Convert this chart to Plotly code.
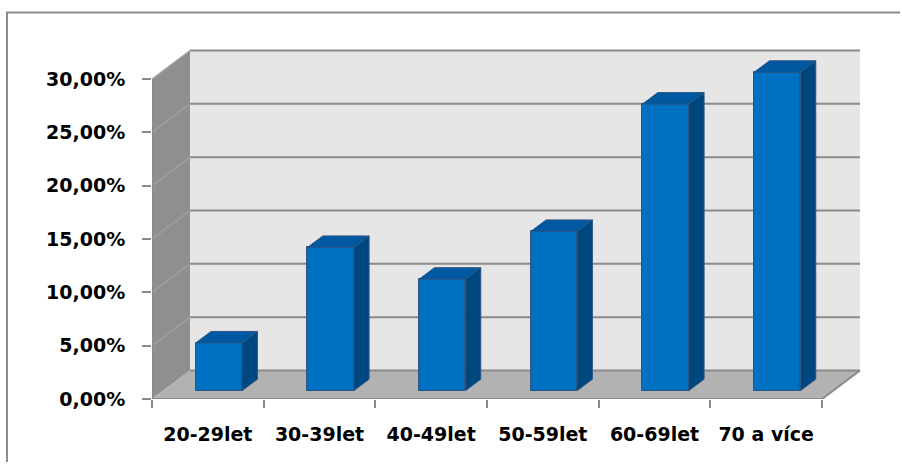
import plotly.graph_objects as go

# ---------------- data ----------------
categories = ["20-29let", "30-39let", "40-49let", "50-59let", "60-69let", "70 a více"]
shares = [4.48, 13.43, 10.45, 14.93, 26.87, 29.85]
y_tick_values = [0, 5, 10, 15, 20, 25, 30]
y_tick_labels = ["0,00%", "5,00%", "10,00%", "15,00%", "20,00%", "25,00%", "30,00%"]

# ---------------- geometry / style ----------------
W, H = 902, 464
L, R, T, B = 152, 38, 48, 65
PX_PER_CAT = 670 / 6
PX_PER_PCT = 320 / 30
N = len(categories)
YMAX = 30
DX, DY = 38 / PX_PER_CAT, 28.5 / PX_PER_PCT   # depth vector of the 3D box
F0, F1 = 0.29, 0.695                          # bar front/back depth fractions
BW = 0.415                                     # bar width in category units
D = F1 - F0

FRONT = "#0070c0"
SIDE = "#00477f"
TOP = "#0058a0"
EDGE = "#2a5584"
WALL = "#e6e6e6"
SIDEWALL = "#8f8f8f"
FLOOR = "#b2b2b2"
GRID = "#8a8a8a"

plot_w = W - L - R
plot_h = H - T - B
xr = [0, plot_w / PX_PER_CAT]
yr = [0, plot_h / PX_PER_PCT]

fig = go.Figure()

centers = [i + 0.5 + F0 * DX for i in range(N)]
base0 = F0 * DY
fig.add_trace(go.Bar(
    x=centers, y=shares, base=[base0] * N, width=BW,
    marker=dict(color=FRONT, line=dict(color=EDGE, width=1)),
    hoverinfo="skip", showlegend=False,
))

sx, sy, tx, ty = [], [], [], []
for c, v in zip(centers, shares):
    xl, xrr = c - BW / 2, c + BW / 2
    top = base0 + v
    sx += [xrr, xrr, xrr + D * DX, xrr + D * DX, xrr, None]
    sy += [base0, top, top + D * DY, base0 + D * DY, base0, None]
    tx += [xl, xrr, xrr + D * DX, xl + D * DX, xl, None]
    ty += [top, top, top + D * DY, top + D * DY, top, None]

fig.add_trace(go.Scatter(x=sx, y=sy, mode="lines", fill="toself", fillcolor=SIDE,
                         line=dict(color=EDGE, width=1), hoverinfo="skip", showlegend=False))
fig.add_trace(go.Scatter(x=tx, y=ty, mode="lines", fill="toself", fillcolor=TOP,
                         line=dict(color=EDGE, width=1), hoverinfo="skip", showlegend=False))

shapes = []
shapes.append(dict(type="rect", xref="x", yref="y", x0=DX, x1=N + DX, y0=DY, y1=YMAX + DY,
                   fillcolor=WALL, line=dict(width=0), layer="below"))
shapes.append(dict(type="path", xref="x", yref="y",
                   path=f"M 0,0 L 0,{YMAX} L {DX},{YMAX + DY} L {DX},{DY} Z",
                   fillcolor=SIDEWALL, line=dict(width=0), layer="below"))
shapes.append(dict(type="path", xref="x", yref="y",
                   path=f"M 0,0 L {N},0 L {N + DX},{DY} L {DX},{DY} Z",
                   fillcolor=FLOOR, line=dict(width=0), layer="below"))
for v in y_tick_values:
    shapes.append(dict(type="line", xref="x", yref="y", x0=DX, x1=N + DX, y0=v + DY, y1=v + DY,
                       line=dict(color=GRID, width=2), layer="below"))
    if v > 0:
        shapes.append(dict(type="line", xref="x", yref="y", x0=0, x1=DX, y0=v, y1=v + DY,
                           line=dict(color="#a3a3a3", width=1.2), layer="below"))
shapes.append(dict(type="line", xref="x", yref="y", x0=0, x1=0, y0=0, y1=YMAX,
                   line=dict(color=GRID, width=2), layer="below"))
shapes.append(dict(type="line", xref="x", yref="y", x0=0, x1=N, y0=0, y1=0,
                   line=dict(color=GRID, width=2), layer="below"))
shapes.append(dict(type="line", xref="x", yref="y", x0=N, x1=N + DX, y0=0, y1=DY,
                   line=dict(color=GRID, width=2), layer="below"))

# outer chart border (left and top edges), kept inside the page
px2x = lambda px: (px - L) / plot_w
py2y = lambda py: (H - B - py) / plot_h
shapes.append(dict(type="path", xref="paper", yref="paper",
                   path=f"M {px2x(7)},{py2y(H - 2)} L {px2x(7)},{py2y(12.5)} L {px2x(W - 2)},{py2y(12.5)}",
                   line=dict(color="#8c8c8c", width=2), fillcolor="rgba(0,0,0,0)", layer="below"))

fig.update_layout(
    width=W, height=H,
    margin=dict(l=L, r=R, t=T, b=B, pad=0),
    paper_bgcolor="white", plot_bgcolor="rgba(0,0,0,0)",
    shapes=shapes,
    showlegend=False,
    bargap=0,
    xaxis=dict(
        range=xr, showgrid=False, zeroline=False, showline=False,
        tickmode="array", tickvals=[i + 0.5 for i in range(N)], ticktext=categories,
        ticks="", tickfont=dict(family="DejaVu Sans", size=19, color="#000000", weight="bold"),
        ticklabelstandoff=22,
        minor=dict(tickmode="array", tickvals=list(range(N + 1)), ticks="outside",
                   ticklen=8, tickcolor=GRID, tickwidth=2, showgrid=False),
        fixedrange=True,
    ),
    yaxis=dict(
        range=yr, showgrid=False, zeroline=False, showline=False,
        tickmode="array", tickvals=y_tick_values, ticktext=y_tick_labels,
        ticks="outside", ticklen=9, tickcolor=GRID, tickwidth=2,
        tickfont=dict(family="DejaVu Sans", size=19, color="#000000", weight="bold"),
        ticklabelstandoff=13,
        fixedrange=True,
    ),
)

fig.write_html("out.html", config={"displayModeBar": False})
